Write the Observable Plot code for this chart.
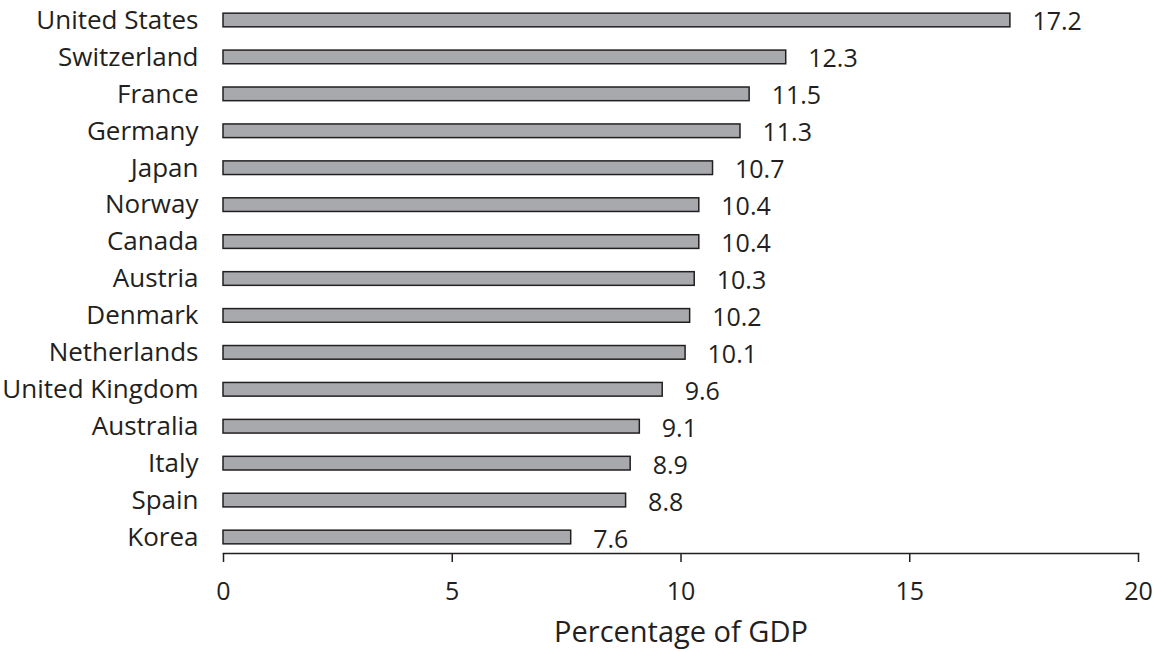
<!DOCTYPE html>
<html>
<head>
<meta charset="utf-8">
<script src="https://cdn.jsdelivr.net/npm/d3@7"></script>
<script src="https://cdn.jsdelivr.net/npm/@observablehq/plot@0.6"></script>
<style>
  html, body { margin: 0; padding: 0; background: #ffffff; }
  #chart svg { display: block; }
</style>
</head>
<body>
<div id="chart"></div>
<script>
const countries = ["United States", "Switzerland", "France", "Germany", "Japan", "Norway", "Canada", "Austria", "Denmark", "Netherlands", "United Kingdom", "Australia", "Italy", "Spain", "Korea"];
const values = [17.2, 12.3, 11.5, 11.3, 10.7, 10.4, 10.4, 10.3, 10.2, 10.1, 9.6, 9.1, 8.9, 8.8, 7.6];
const xTicks = [0, 5, 10, 15, 20];
const axisTitle = "Percentage of GDP";

const data = countries.map((c, i) => ({country: c, value: values[i]}));
const ink = "#231f20";

const chart = Plot.plot({
  width: 1153,
  height: 652,
  marginLeft: 223,
  marginRight: 15,
  marginTop: 4,
  marginBottom: 99,
  style: {fontFamily: "'Open Sans', sans-serif", fontSize: "24px", color: ink, background: "#ffffff"},
  x: {domain: [0, 20], ticks: xTicks, label: null},
  y: {domain: countries, paddingInner: 0.63, paddingOuter: 0.248, round: false, label: null},
  marks: [
    Plot.barX(data, {x: "value", y: "country", fill: "#a7a9ac", stroke: ink, strokeWidth: 1.5}),
    Plot.text(data, {x: "value", y: "country", text: d => d.value.toFixed(1), dx: 22, dy: 2, textAnchor: "start", fontSize: 25, fill: ink}),
    Plot.ruleX([0], {y1: null, stroke: ink, strokeWidth: 1.5, insetTop: -4}),
    Plot.frame({anchor: "bottom", stroke: ink, strokeWidth: 1.5}),
    Plot.axisX({ticks: xTicks, tickSize: 9, tickPadding: 20, fontSize: 25, stroke: ink, strokeWidth: 1.5, label: null}),
    Plot.axisY({tickSize: 0, tickPadding: 25, fontSize: 26, label: null}),
    Plot.text([axisTitle], {frameAnchor: "bottom", dy: 88, fontSize: 29, fill: ink})
  ]
});
document.getElementById("chart").appendChild(chart);
</script>
</body>
</html>
